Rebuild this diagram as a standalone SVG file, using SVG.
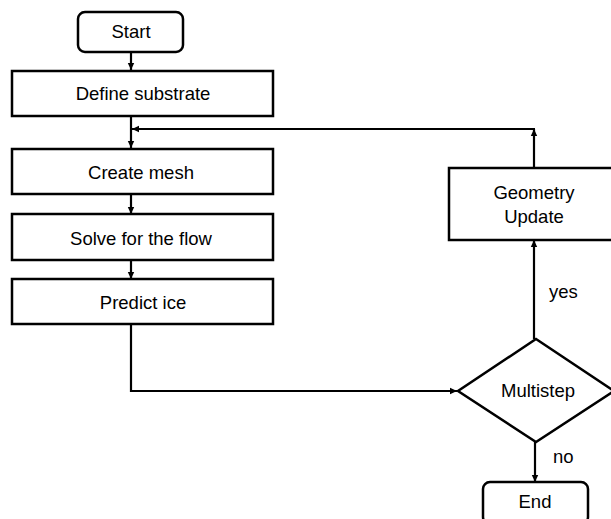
<svg xmlns="http://www.w3.org/2000/svg" width="611" height="519" viewBox="0 0 611 519">
<defs>
<marker id="ah" markerWidth="8" markerHeight="8" refX="7" refY="4" orient="auto" markerUnits="userSpaceOnUse">
<path d="M0,0.8 L7,4 L0,7.2 Z" fill="#000"/>
</marker>
<style>
.n{fill:#fff;stroke:#000;stroke-width:2.5}
.c{fill:none;stroke:#000;stroke-width:2.2}
.t{font-family:"Liberation Sans",Arial,sans-serif;font-size:18.5px;fill:#000;text-anchor:middle}
.l{font-family:"Liberation Sans",Arial,sans-serif;font-size:18.5px;fill:#000}
</style>
</defs>
<rect width="611" height="519" fill="#fff"/>
<g id="connectors">
<line class="c" x1="131" y1="52" x2="131" y2="70" marker-end="url(#ah)"/>
<line class="c" x1="131" y1="116" x2="131" y2="148" marker-end="url(#ah)"/>
<line class="c" x1="131" y1="194" x2="131" y2="214" marker-end="url(#ah)"/>
<line class="c" x1="131" y1="260" x2="131" y2="279" marker-end="url(#ah)"/>
<polyline class="c" points="131,324 131,391 457,391" marker-end="url(#ah)"/>
<line class="c" x1="534" y1="339" x2="534" y2="240" marker-end="url(#ah)"/>
<line class="c" x1="534" y1="168" x2="534" y2="129" marker-end="url(#ah)"/>
<line class="c" x1="535" y1="129" x2="132" y2="129" marker-end="url(#ah)"/>
<line class="c" x1="535" y1="442" x2="535" y2="482" marker-end="url(#ah)"/>
<text class="l" x="549" y="298">yes</text>
<text class="l" x="553" y="463">no</text>
</g>
<g id="start">
<rect class="n" x="78" y="12" width="105" height="40" rx="7"/>
<text class="t" x="131" y="38">Start</text>
</g>
<g id="define">
<rect class="n" x="12" y="71" width="261" height="45"/>
<text class="t" x="143" y="100">Define substrate</text>
</g>
<g id="mesh">
<rect class="n" x="12" y="149" width="261" height="45"/>
<text class="t" x="141" y="179">Create mesh</text>
</g>
<g id="solve">
<rect class="n" x="12" y="214" width="261" height="46"/>
<text class="t" x="141" y="245">Solve for the flow</text>
</g>
<g id="predict">
<rect class="n" x="12" y="279" width="261" height="45"/>
<text class="t" x="143" y="309">Predict ice</text>
</g>
<g id="geometry">
<rect class="n" x="449" y="168" width="170" height="72"/>
<text class="t" x="534" y="199">Geometry</text>
<text class="t" x="534" y="223">Update</text>
</g>
<g id="multistep">
<polygon class="n" points="536,339 614,391 536,442 458,391"/>
<text class="t" x="538" y="397">Multistep</text>
</g>
<g id="end">
<rect class="n" x="483" y="482" width="105" height="42" rx="7"/>
<text class="t" x="535" y="508">End</text>
</g>
</svg>
